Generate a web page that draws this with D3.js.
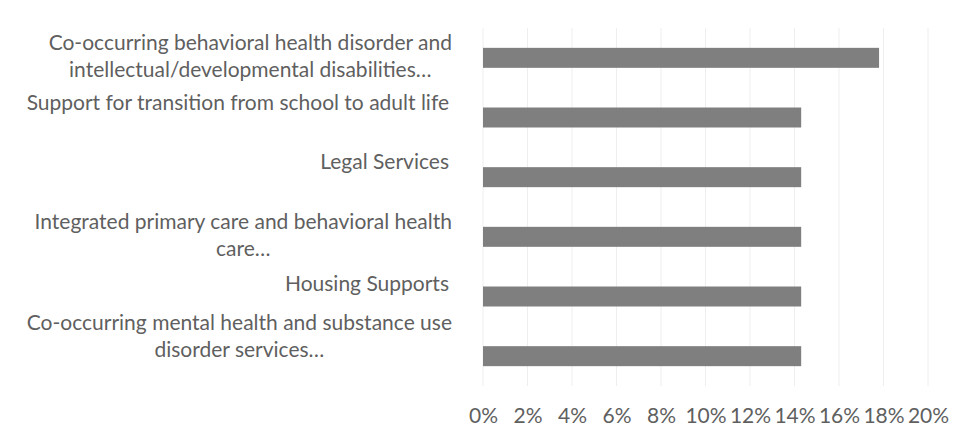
<!DOCTYPE html>
<html>
<head>
<meta charset="utf-8">
<script src="https://cdn.jsdelivr.net/npm/d3@7"></script>
<style>
  body { margin: 0; background: #fff; }
  svg { display: block; }
  .lbl { font-family: Lato, "Open Sans", sans-serif; font-size: 21px; fill: #5f5f5f; }
  .tick text { font-family: Lato, "Open Sans", sans-serif; font-size: 21px; fill: #5f5f5f; }
</style>
</head>
<body>
<div id="chart"></div>
<script>
const categories = [
  "Co-occurring behavioral health disorder and\nintellectual/developmental disabilities\u2026",
  "Support for transition from school to adult life",
  "Legal Services",
  "Integrated primary care and behavioral health\ncare\u2026",
  "Housing Supports",
  "Co-occurring mental health and substance use\ndisorder services\u2026"
];
const values = [0.178, 0.143, 0.143, 0.143, 0.143, 0.143];
const xTicks = [0, 0.02, 0.04, 0.06, 0.08, 0.10, 0.12, 0.14, 0.16, 0.18, 0.20];

// excel nudges some of the category labels, copy that
const labelShift = [0, 0, 0, 0, 2, -18];

const W = 962, H = 428;
const svg = d3.select("#chart").append("svg").attr("width", W).attr("height", H);

const x = d3.scaleLinear().domain([0, 0.2]).range([483, 928]);
const y = d3.scaleBand().domain(categories).range([28, 386])
  .paddingInner(0.665).paddingOuter(0.3325);

// gridlines
svg.append("g").selectAll("line").data(xTicks).join("line")
  .attr("x1", d => x(d)).attr("x2", d => x(d))
  .attr("y1", 28).attr("y2", 386)
  .attr("stroke", "#eeeeee").attr("stroke-width", 1);

// bars
svg.append("g").selectAll("rect").data(categories).join("rect")
  .attr("x", x(0))
  .attr("y", d => y(d))
  .attr("width", (d, i) => x(values[i]) - x(0))
  .attr("height", y.bandwidth())
  .attr("fill", "#7f7f7f");

// x axis, labels only
const xAxis = svg.append("g").attr("transform", "translate(0,408)")
  .call(d3.axisBottom(x).tickValues(xTicks).tickFormat(d3.format(".0%")).tickSize(0).tickPadding(0));
xAxis.select(".domain").remove();
xAxis.selectAll(".tick text").attr("dy", "0.71em");

// category labels
const labelRight = 452, lineH = 27;
categories.forEach((c, i) => {
  const lines = c.split("\n");
  const cy = y(c) + y.bandwidth() / 2;
  const base = cy - 8 + labelShift[i];
  const t = svg.append("text").attr("class", "lbl");
  if (lines.length == 1) {
    t.attr("x", labelRight - 3).attr("y", base).attr("text-anchor", "end").text(lines[0]);
  } else {
    t.attr("text-anchor", "middle");
    const spans = lines.map((l, j) => t.append("tspan").attr("y", base + j * lineH).text(l));
    const w = d3.max(spans, s => s.node().getComputedTextLength());
    spans.forEach(s => s.attr("x", labelRight - w / 2));
  }
});
</script>
</body>
</html>
